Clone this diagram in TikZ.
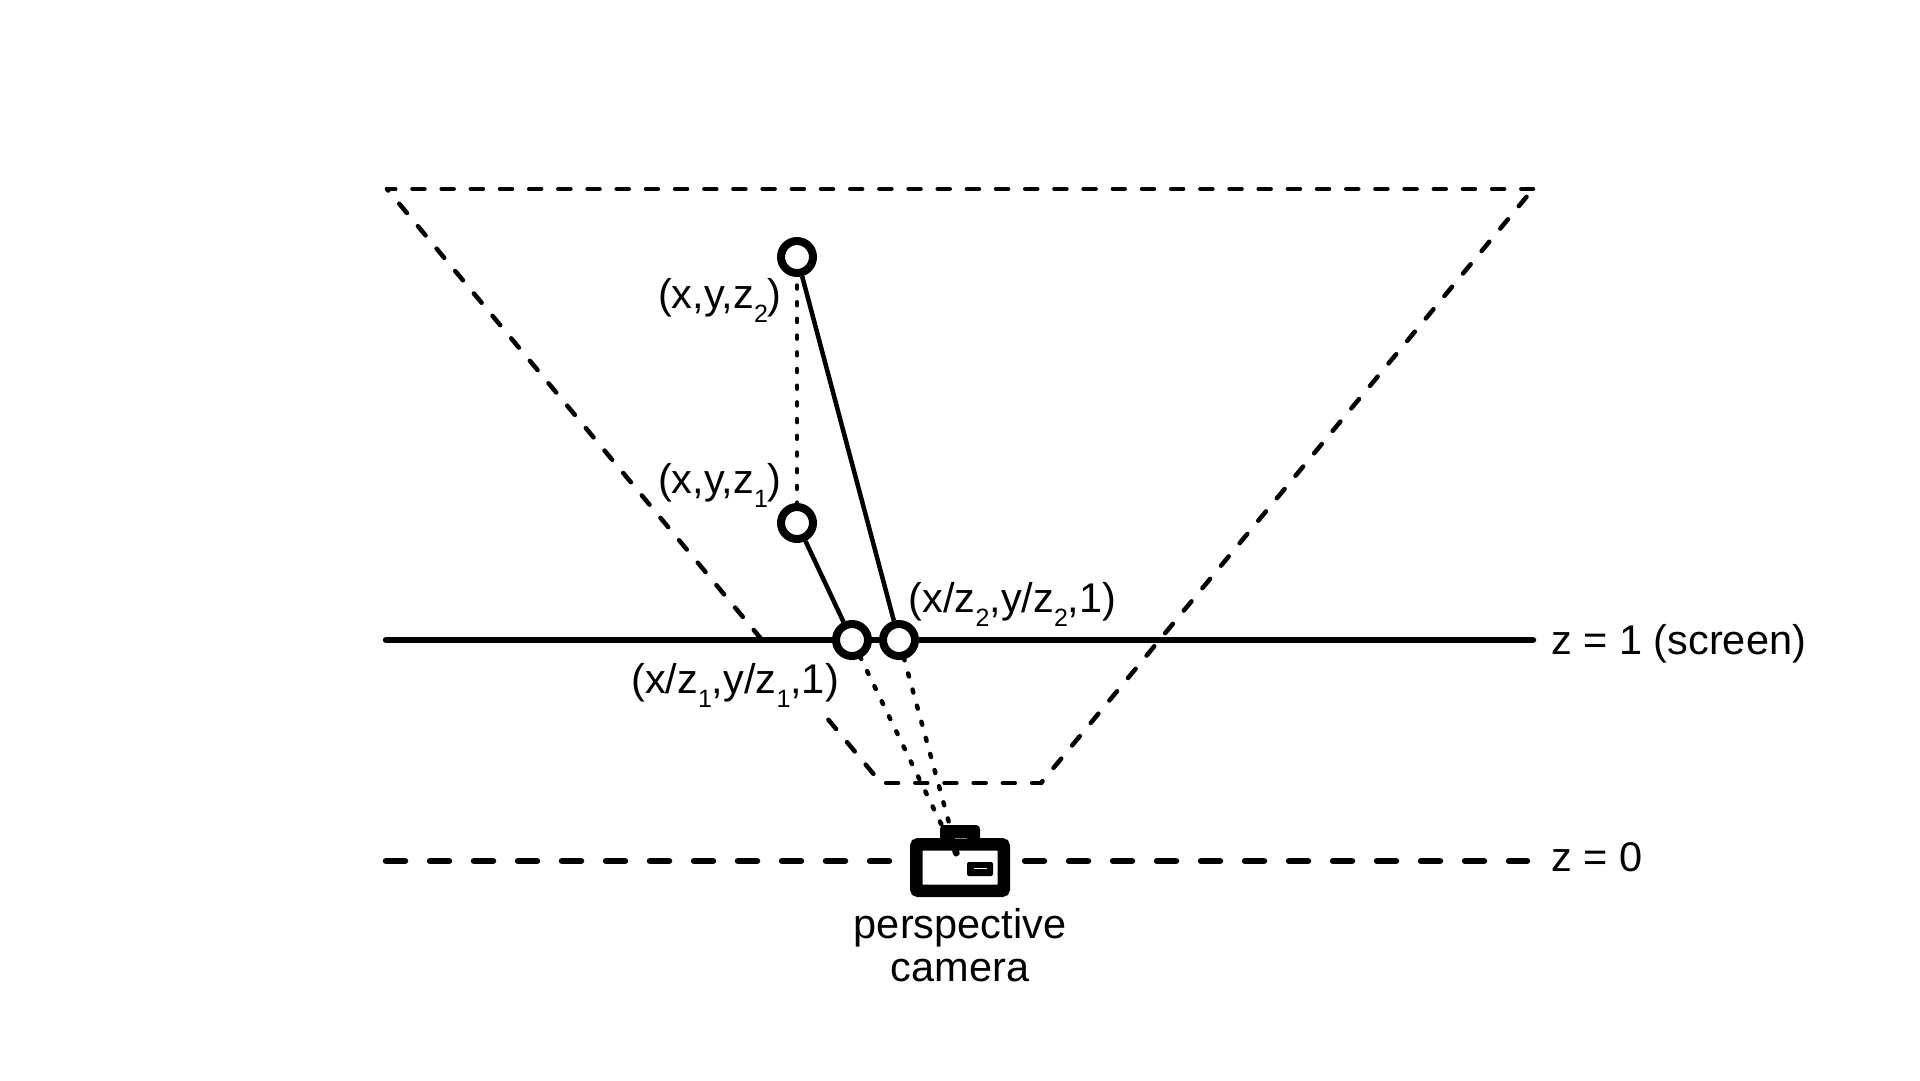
\documentclass[tikz,border=0pt]{standalone}
\usepackage{fontspec}
\setmainfont{Liberation Sans}
\newcommand{\subidx}[1]{\raisebox{-14pt}{\fontsize{25}{25}\selectfont #1}}
\begin{document}
\begin{tikzpicture}[x=1pt, y=-1pt,
                    every node/.style={font=\fontsize{41.5}{43}\selectfont, inner sep=0pt},
                    vertex/.style={circle, draw, fill=white, line width=8pt, minimum size=32pt},
                    frustum/.style={line width=4.5pt, line cap=round, dash pattern=on 12pt off 17.18pt},
                    ray/.style={line width=4.5pt},
                    dots/.style={line width=4.5pt, line cap=round, dash pattern=on 3pt off 13.7pt},
                    plane/.style={line width=6.5pt, line cap=round},
                    planedash/.style={line width=6.5pt, line cap=round, dash pattern=on 19pt off 25pt}]
                    \useasboundingbox[fill=white] (0,0) rectangle (1920,1080);

                    \coordinate (f1) at (387,189);
                    \coordinate (f2) at (1533,189);
                    \coordinate (f3) at (1041,783);
                    \coordinate (f4) at (881,783);
                    \draw[frustum, dash phase=3.7pt] (f1) -- (f2);
                    \draw[frustum, dash phase=19pt] (f2) -- (f3);
                    \draw[frustum, dash phase=3pt] (f3) -- (f4);
                    \draw[frustum, dash phase=10pt] (f1) -- (f4);

                    \node[fill=white, anchor=base west, text height=47pt, text depth=21pt] (l3) at (631,693) {(x/z\subidx{1},y/z\subidx{1},1)};

                    \coordinate (a1) at (386,640);
                    \coordinate (b1) at (1533,640);
                    \draw[plane] (a1) -- (b1);

                    \coordinate (a0) at (386,861);
                    \coordinate (c0) at (930,861);
                    \coordinate (c1) at (1025,861);
                    \coordinate (b0) at (1527,861);
                    \draw[planedash] (a0) -- (c0);
                    \draw[planedash] (c1) -- (b0);

                    \node[fill=black, rounded corners=4pt, minimum width=40pt, minimum height=20pt] (top) at (960,835) {};
                    \node[draw, fill=white, line width=12.5pt, rounded corners=2pt, minimum width=87.5pt, minimum height=46.5pt] (cam) at (960,867.5) {};
                    \node[fill=black, rounded corners=2pt, minimum width=26pt, minimum height=14pt] (lens) at (980,869) {};
                    \node[fill=white, minimum width=13pt, minimum height=1.5pt] (slit) at (980,868.5) {};
                    \node[fill=gray, minimum width=14pt, minimum height=1pt] (vent) at (960,838) {};

                    \coordinate (apex) at (960,863);

                    \node[vertex] (1) at (797,523) {};
                    \node[vertex] (2) at (797,257) {};
                    \node[vertex] (3) at (852,640) {};
                    \node[vertex] (4) at (899,640) {};

                    \draw[dots, dash phase=8.2pt] (2) -- (1);
                    \draw[ray] (2) -- (4);
                    \draw[ray] (1) -- (3);
                    \draw[dots, dash phase=2pt] (3) -- (apex);
                    \draw[dots, dash phase=2pt] (4) -- (apex);

                    \node[anchor=base east] (l2) at (782,308) {(x,y,z\subidx{2})};
                    \node[anchor=base east] (l1) at (782,493) {(x,y,z\subidx{1})};
                    \node[anchor=base west] (l4) at (908.5,612) {(x/z\subidx{2},y/z\subidx{2},1)};

                    \node[anchor=base west] (z1) at (1551,654) {z = 1 (screen)};
                    \node[anchor=base west] (z0) at (1551,871) {z = 0};
                    \node[align=center] (name) at (960,945.5) {perspective\\camera};
                \end{tikzpicture}
\end{document}
